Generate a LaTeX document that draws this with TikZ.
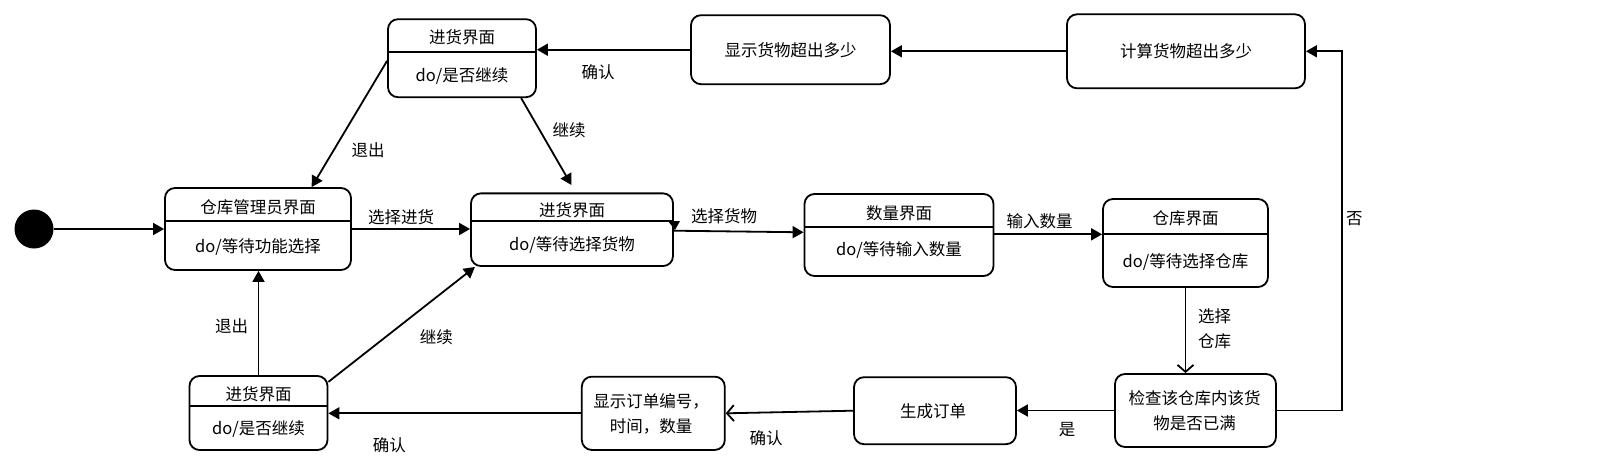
\documentclass[tikz,border=0pt]{standalone}
\usepackage{fontspec}
\setmainfont{Noto Sans CJK SC}
\usetikzlibrary{arrows.meta}
\tikzset{
  box/.style={draw=black, line width=1.8pt, rounded corners=10pt, inner sep=0pt, fill=white},
  txt/.style={inner sep=0pt, font=\fontsize{16.5}{24.4}\selectfont, align=center, text=black},
  lbl/.style={inner sep=0pt, font=\fontsize{16.5}{25}\selectfont, align=center, text=black},
  arr/.style={line width=1.8pt, -{Triangle[length=11pt,width=12pt]}},
  oarr/.style={line width=1.8pt, -{Straight Barb[length=7pt,width=16pt,line width=1.8pt]}},
  divl/.style={line width=1.8pt},
}
\begin{document}
\begin{tikzpicture}[x=1pt,y=-1pt]
\useasboundingbox (0,0) rectangle (1605,466);
% initial state
\node[circle, fill=black, minimum size=39pt, inner sep=0pt] (init) at (34,229) {};
% manager screen
\node[box, minimum width=186pt, minimum height=82pt] (mgr) at (258,229) {};
\draw[divl] (mgr.west |- 0,221) -- (mgr.east |- 0,221);
\node[txt] (mgrT) at (258,207) {仓库管理员界面};
\node[txt] (mgrB) at (258,247) {do/等待功能选择};
% top stock-in screen
\node[box, minimum width=148pt, minimum height=78pt] (in1) at (462,58.2) {};
\draw[divl] (in1.west |- 0,51.7) -- (in1.east |- 0,51.7);
\node[txt] (in1T) at (462,37.7) {进货界面};
\node[txt] (in1B) at (462,76) {do/是否继续};
% middle stock-in screen
\node[box, minimum width=202pt, minimum height=72.7pt] (in2) at (572,229.7) {};
\draw[divl] (in2.west |- 0,221) -- (in2.east |- 0,221);
\node[txt] (in2T) at (572,210.5) {进货界面};
\node[txt] (in2B) at (572,245) {do/等待选择货物};
\fill (668,221) -- (680,221) -- (675,230) -- cycle;
% quantity screen
\node[box, minimum width=189pt, minimum height=82pt] (qty) at (899,235) {};
\draw[divl] (qty.west |- 0,226.7) -- (qty.east |- 0,226.7);
\node[txt] (qtyT) at (899,213.3) {数量界面};
\node[txt] (qtyB) at (899,250) {do/等待输入数量};
% warehouse screen
\node[box, minimum width=165pt, minimum height=88pt] (wh) at (1185.5,243) {};
\draw[divl] (wh.west |- 0,234.3) -- (wh.east |- 0,234.3);
\node[txt] (whT) at (1185.5,218.3) {仓库界面};
\node[txt] (whB) at (1185.5,261.7) {do/等待选择仓库};
% check
\node[box, minimum width=161pt, minimum height=73pt] (check) at (1195.5,410.5) {};
\node[txt] (checkT) at (1194.5,410.5) {检查该仓库内该货\\物是否已满};
% generate order
\node[box, minimum width=162pt, minimum height=67pt] (gen) at (935,410.7) {};
\node[txt] (genT) at (933,411.5) {生成订单};
% display order
\node[box, minimum width=143pt, minimum height=73.3pt] (disp) at (653.3,413.3) {};
\node[txt] (dispT) at (651,414) {显示订单编号，\\时间，数量};
% bottom stock-in screen
\node[box, minimum width=138pt, minimum height=74pt] (in3) at (258.5,413) {};
\draw[divl] (in3.west |- 0,406) -- (in3.east |- 0,406);
\node[txt] (in3T) at (258.5,394) {进货界面};
\node[txt] (in3B) at (258.5,429.3) {do/是否继续};
% show exceed
\node[box, minimum width=199pt, minimum height=69pt] (showx) at (790.5,49.7) {};
\node[txt] (showxT) at (790.5,50) {显示货物超出多少};
% calculate exceed
\node[box, minimum width=238pt, minimum height=74pt] (calc) at (1186,51.3) {};
\node[txt] (calcT) at (1186,51.5) {计算货物超出多少};
% connectors
\draw[arr] (init) -- (mgr.west |- init.east);
\draw[arr] (mgr.east) -- (mgr.east -| in2.west);
\draw[arr] (in2.east |- 0,230.7) -- (qty.west |- 0,232.3);
\draw[arr] (qty.east |- 0,234.3) -- (wh.west |- 0,234.3);
\draw[oarr] (wh.south) -- (wh.south |- check.north);
\coordinate (nobend) at (1342,410.5);
\draw[arr] (check.east) -- (nobend) |- (calc.east);
\draw[arr] (check.west) -- (check.west -| gen.east);
\draw[oarr] (gen.west) -- (disp.east);
\draw[arr] (disp.west) -- (disp.west -| in3.east);
\draw[arr] (in3.north) -- (in3.north |- mgr.south);
\draw[arr] (in3.24) -- (in2.201);
\draw[arr] (calc.west) -- (calc.west -| showx.east);
\draw[arr] (showx.west) -- (showx.west -| in1.east);
\draw[arr] (in1.182) -- (mgr.38);
\coordinate (contend) at (571.4,185);
\draw[arr] (in1.-34) -- (contend);
% labels
\node[lbl] (l1) at (401,217) {选择进货};
\node[lbl] (l2) at (724,216.7) {选择货物};
\node[lbl] (l3) at (1039.5,221.7) {输入数量};
\node[lbl] (l4) at (1214.6,329.2) {选择\\仓库};
\node[lbl] (l5) at (1354.4,218.3) {否};
\node[lbl] (l6) at (1067,429.3) {是};
\node[lbl] (l7) at (766,438.3) {确认};
\node[lbl] (l8) at (389.3,445) {确认};
\node[lbl] (l9) at (231.5,326) {退出};
\node[lbl] (l10) at (436.3,337.3) {继续};
\node[lbl] (l11) at (598,72.7) {确认};
\node[lbl] (l12) at (368,150.7) {退出};
\node[lbl] (l13) at (569,130.7) {继续};
\end{tikzpicture}
\end{document}
